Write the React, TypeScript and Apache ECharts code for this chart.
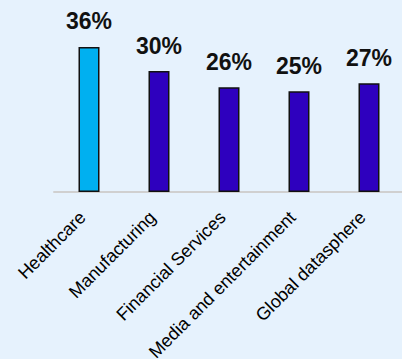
import React, { useEffect, useRef } from "react";
import * as echarts from "echarts";

const categories = [
  "Healthcare",
  "Manufacturing",
  "Financial Services",
  "Media and entertainment",
  "Global datasphere",
];
const values = [36, 30, 26, 25, 27];
const barColors = ["#00B0F0", "#2E00BE", "#2E00BE", "#2E00BE", "#2E00BE"];

export default function App() {
  const ref = useRef<HTMLDivElement>(null);
  useEffect(() => {
    document.body.style.margin = "0";
    const chart = echarts.init(ref.current!, undefined, { renderer: "svg" });
    chart.setOption({
      animation: false,
      backgroundColor: "#E6F2FD",
      grid: { left: 54, width: 350, top: 30.8, bottom: 167, outerBoundsMode: "none", containLabel: false },
      xAxis: {
        type: "category",
        data: categories,
        axisLine: { lineStyle: { color: "#D0D0D0", width: 2 } },
        axisTick: { show: false },
        axisLabel: {
          rotate: 45,
          interval: 0,
          color: "#000",
          fontFamily: "Liberation Sans, Arial, sans-serif",
          fontSize: 18,
          margin: 16,
          padding: [0, 9, 0, 0],
        },
      },
      yAxis: { type: "value", min: 0, max: 40, show: false, splitLine: { show: false } },
      series: [
        {
          type: "bar",
          barWidth: 21,
          data: values.map((v, i) => ({ value: v, itemStyle: { color: barColors[i] } })),
          itemStyle: { borderColor: "#111", borderWidth: 1.5 },
          label: {
            show: true,
            position: "top",
            distance: 14,
            formatter: "{c}%",
            color: "#111",
            fontWeight: "bold",
            fontSize: 23,
            fontFamily: "Liberation Sans, Arial, sans-serif",
          },
        },
      ],
    });
    return () => chart.dispose();
  }, []);
  return <div ref={ref} style={{ width: 402, height: 359 }} />;
}
